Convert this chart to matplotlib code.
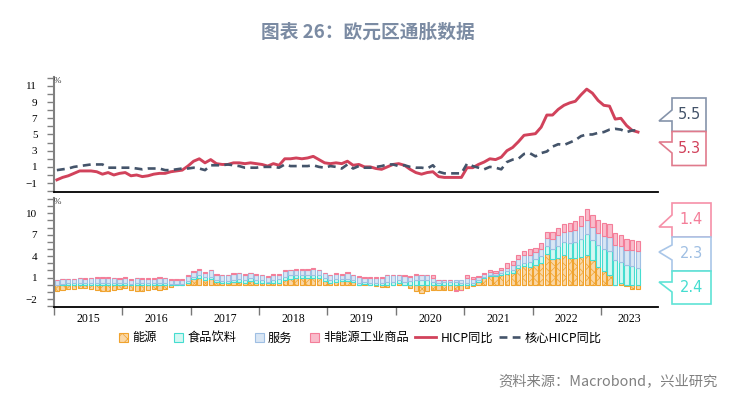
import numpy as np
import matplotlib.pyplot as plt
from matplotlib.patches import Polygon, Rectangle
from matplotlib.lines import Line2D
from matplotlib.legend_handler import HandlerPatch
from matplotlib.ticker import MultipleLocator, FixedLocator

plt.rcParams['font.family'] = ['Noto Sans CJK SC', 'DejaVu Sans']
plt.rcParams['hatch.linewidth'] = 0.5

# monthly data, 2015-01 .. 2023-07
years = ['2015', '2016', '2017', '2018', '2019', '2020', '2021', '2022', '2023']

hicp = [-0.6, -0.3, -0.1, 0.2, 0.5, 0.5, 0.5, 0.4, 0.1, 0.3, 0.0, 0.2,
        0.3, -0.1, 0.0, -0.2, -0.1, 0.1, 0.2, 0.2, 0.4, 0.5, 0.6, 1.1,
        1.7, 2.0, 1.5, 1.9, 1.4, 1.3, 1.3, 1.5, 1.5, 1.4, 1.5, 1.4,
        1.3, 1.1, 1.4, 1.2, 2.0, 2.0, 2.1, 2.0, 2.1, 2.3, 1.9, 1.5,
        1.4, 1.5, 1.4, 1.7, 1.2, 1.3, 1.0, 1.0, 0.8, 0.7, 1.0, 1.3,
        1.4, 1.2, 0.7, 0.3, 0.1, 0.3, 0.4, -0.2, -0.3, -0.3, -0.3, -0.3,
        0.9, 0.9, 1.3, 1.6, 2.0, 1.9, 2.2, 3.0, 3.4, 4.1, 4.9, 5.0,
        5.1, 5.9, 7.4, 7.4, 8.1, 8.6, 8.9, 9.1, 9.9, 10.6, 10.1, 9.2,
        8.6, 8.5, 6.9, 7.0, 6.1, 5.5, 5.3]

core = [0.6, 0.7, 0.8, 1.0, 1.1, 1.2, 1.3, 1.3, 1.3, 0.9, 0.9, 0.9,
        0.9, 0.9, 0.8, 0.7, 0.8, 0.8, 0.8, 0.6, 0.6, 0.7, 0.8, 0.8,
        0.9, 0.8, 0.6, 1.2, 1.2, 1.2, 1.3, 1.2, 1.1, 0.9, 0.9, 0.9,
        1.0, 1.0, 1.0, 0.9, 1.3, 1.1, 1.1, 1.1, 1.1, 1.2, 1.0, 0.9,
        1.1, 1.0, 0.8, 1.3, 0.8, 1.1, 0.9, 0.9, 1.0, 1.1, 1.3, 1.3,
        1.1, 1.2, 1.0, 0.9, 0.9, 0.8, 1.2, 0.4, 0.2, 0.2, 0.2, 0.2,
        1.4, 1.1, 0.9, 0.7, 1.0, 0.9, 0.7, 1.6, 1.9, 2.0, 2.6, 2.7,
        2.3, 2.7, 2.9, 3.5, 3.8, 3.7, 4.0, 4.3, 4.8, 5.0, 5.0, 5.2,
        5.3, 5.6, 5.7, 5.6, 5.3, 5.5, 5.5]

# contributions to HICP, ppt
energy = [-0.9, -0.8, -0.6, -0.6, -0.5, -0.5, -0.6, -0.7, -0.9, -0.9, -0.7, -0.6,
          -0.5, -0.8, -0.9, -0.9, -0.8, -0.6, -0.7, -0.6, -0.3, -0.1, -0.1, 0.3,
          0.8, 0.9, 0.7, 0.8, 0.4, 0.2, 0.2, 0.4, 0.4, 0.3, 0.5, 0.3,
          0.2, 0.2, 0.2, 0.3, 0.6, 0.8, 0.9, 0.9, 0.9, 1.0, 0.9, 0.5,
          0.3, 0.4, 0.5, 0.5, 0.4, 0.0, 0.1, -0.1, -0.2, -0.3, -0.3, 0.0,
          0.2, 0.0, -0.4, -0.9, -1.1, -0.9, -0.8, -0.7, -0.8, -0.8, -0.8, -0.7,
          -0.4, -0.2, 0.4, 1.0, 1.2, 1.2, 1.4, 1.5, 1.7, 2.3, 2.6, 2.5,
          2.8, 3.1, 4.3, 3.6, 3.8, 4.1, 3.8, 3.7, 3.9, 4.2, 3.4, 2.5,
          1.9, 1.4, -0.1, 0.2, -0.2, -0.6, -0.6]

food = [0.0, 0.1, 0.2, 0.2, 0.2, 0.2, 0.2, 0.3, 0.3, 0.3, 0.3, 0.2,
        0.2, 0.1, 0.2, 0.2, 0.2, 0.2, 0.3, 0.3, 0.1, 0.1, 0.1, 0.2,
        0.3, 0.5, 0.4, 0.3, 0.3, 0.3, 0.3, 0.3, 0.4, 0.4, 0.4, 0.4,
        0.4, 0.2, 0.4, 0.5, 0.5, 0.5, 0.5, 0.5, 0.5, 0.4, 0.4, 0.4,
        0.3, 0.4, 0.3, 0.3, 0.3, 0.3, 0.3, 0.3, 0.3, 0.3, 0.4, 0.4,
        0.4, 0.4, 0.5, 0.7, 0.7, 0.7, 0.4, 0.3, 0.4, 0.4, 0.4, 0.3,
        0.3, 0.3, 0.2, 0.1, 0.1, 0.1, 0.3, 0.4, 0.4, 0.4, 0.4, 0.7,
        0.8, 0.9, 1.1, 1.4, 1.6, 1.9, 2.1, 2.3, 2.5, 2.9, 2.9, 3.0,
        3.1, 3.3, 3.4, 3.0, 2.8, 2.6, 2.4]

services = [0.6, 0.7, 0.6, 0.6, 0.7, 0.6, 0.7, 0.7, 0.7, 0.7, 0.6, 0.6,
            0.7, 0.5, 0.7, 0.6, 0.6, 0.6, 0.7, 0.6, 0.6, 0.6, 0.6, 0.7,
            0.7, 0.7, 0.6, 0.9, 0.7, 0.8, 0.8, 0.8, 0.8, 0.7, 0.7, 0.7,
            0.7, 0.7, 0.8, 0.6, 0.8, 0.7, 0.7, 0.7, 0.7, 0.8, 0.7, 0.7,
            0.7, 0.7, 0.6, 0.9, 0.6, 0.8, 0.6, 0.7, 0.7, 0.7, 0.9, 0.9,
            0.7, 0.8, 0.6, 0.7, 0.6, 0.6, 0.5, 0.3, 0.2, 0.2, 0.3, 0.3,
            0.6, 0.5, 0.5, 0.4, 0.5, 0.3, 0.4, 0.5, 0.7, 0.9, 1.1, 1.0,
            1.0, 1.0, 1.1, 1.4, 1.5, 1.4, 1.6, 1.6, 1.8, 1.9, 1.8, 1.8,
            1.8, 2.0, 2.1, 2.2, 2.1, 2.3, 2.3]

neig = [0.0, 0.0, 0.0, 0.0, 0.1, 0.1, 0.1, 0.1, 0.1, 0.1, 0.1, 0.1,
        0.2, 0.2, 0.1, 0.1, 0.1, 0.1, 0.1, 0.1, 0.1, 0.1, 0.1, 0.1,
        0.1, 0.1, 0.1, 0.1, 0.1, 0.1, 0.1, 0.1, 0.1, 0.1, 0.1, 0.1,
        0.1, 0.1, 0.1, 0.1, 0.1, 0.1, 0.1, 0.1, 0.1, 0.1, 0.1, 0.1,
        0.1, 0.1, 0.1, 0.1, 0.1, 0.1, 0.1, 0.1, 0.1, 0.1, 0.1, 0.1,
        0.1, 0.1, 0.1, 0.1, 0.1, 0.1, 0.4, 0.0, 0.0, 0.0, -0.1, -0.1,
        0.4, 0.3, 0.1, 0.1, 0.2, 0.3, 0.2, 0.7, 0.5, 0.5, 0.6, 0.8,
        0.5, 0.8, 0.9, 1.0, 1.1, 1.1, 1.2, 1.3, 1.4, 1.6, 1.6, 1.7,
        1.8, 1.8, 1.7, 1.6, 1.5, 1.4, 1.4]

labels = ['能源', '食品饮料', '服务', '非能源工业商品', 'HICP同比', '核心HICP同比']

c_red = '#d1425b'
c_navy = '#44546a'
comps = [
    (energy, '#fad7a6', '#f0a32e', 'xxx'),
    (food, '#d4f7f2', '#45ddd0', None),
    (services, '#d9e6f4', '#9fbfe3', None),
    (neig, '#f9bccb', '#f47e99', None),
]

n = len(hicp)
x = np.arange(n) + 0.5
xmax = 106

fig = plt.figure(figsize=(7.41, 3.98), dpi=100)
ax1 = fig.add_axes([0.0729, 0.5176, 0.815, 0.289])
ax2 = fig.add_axes([0.0729, 0.2286, 0.815, 0.274])

# ---- top panel: headline and core
ax1.plot(x, hicp, color=c_red, lw=2.1, solid_joinstyle='round')
ax1.plot(x, core, color=c_navy, lw=1.9, dashes=(3.0, 2.0))
ax1.set_xlim(0, xmax)
ax1.set_ylim(-2.1, 12.1)
ax1.yaxis.set_major_locator(FixedLocator([-1, 1, 3, 5, 7, 9, 11]))
ax1.yaxis.set_minor_locator(MultipleLocator(1))
ax1.set_xticks([])

# ---- bottom panel: stacked contributions
pos_base = np.zeros(n)
neg_base = np.zeros(n)
bars = []
for vals, face, edge, hatch in comps:
    v = np.array(vals)
    bottom = np.where(v >= 0, pos_base, neg_base)
    b = ax2.bar(x, v, bottom=bottom, width=0.74, color=face, edgecolor=edge,
                linewidth=0.8, hatch=hatch)
    bars.append(b.patches[0])
    pos_base += np.clip(v, 0, None)
    neg_base += np.clip(v, None, 0)

ax2.set_xlim(0, xmax)
ax2.set_ylim(-3.12, 12.14)
ax2.yaxis.set_major_locator(FixedLocator([-2, 1, 4, 7, 10]))
ax2.yaxis.set_minor_locator(MultipleLocator(1))
ax2.set_xticks(np.arange(0, 97, 12))
ax2.set_xticklabels([])
mids = [12 * i + 6 for i in range(len(years) - 1)] + [(96 + xmax) / 2]
ax2.set_xticks(mids, minor=True)
ax2.set_xticklabels(years, minor=True)
ax2.tick_params(axis='x', which='major', length=6, width=1, color='#777777')
ax2.tick_params(axis='x', which='minor', length=0, pad=4,
                labelsize=8.5, labelfontfamily='Liberation Serif')

for ax in (ax1, ax2):
    for s in ('top', 'right'):
        ax.spines[s].set_visible(False)
    ax.spines['left'].set_color('#808080')
    ax.spines['left'].set_linewidth(1.5)
    ax.spines['bottom'].set_color('black')
    ax.spines['bottom'].set_linewidth(1.3)
    ax.tick_params(axis='y', which='both', length=5, width=1, color='#808080',
                   pad=7, labelsize=8, labelfontfamily='Liberation Serif')
    ax.text(0.0, 1.0, '%', transform=ax.transAxes, fontsize=6.5,
            ha='left', va='top', color='#333333', fontfamily='Liberation Serif')


# ---- callout labels on the right (pixel layout)
def px(xp, yp):
    return (xp / 741.0, 1 - yp / 398.0)


def callout(xl, xr, yt, yb, ya, ytip, ybj, color, text, tcolor):
    pts = [(xl, yt), (xr, yt), (xr, yb), (xl, yb), (xl, ybj), (659, ytip), (xl, ya)]
    poly = Polygon([px(a, b) for a, b in pts], closed=True, transform=fig.transFigure,
                   facecolor='white', edgecolor=color, linewidth=1.2)
    fig.patches.append(poly)
    cx, cy = px((xl + xr) / 2, (yt + yb) / 2)
    fig.text(cx, cy, text, ha='center', va='center', fontsize=10.5, color=tcolor,
             fontfamily='DejaVu Sans')


callout(672, 706, 98, 131.5, 110, 121, 121, '#8593aa', f'{core[-1]:.1f}', c_navy)
callout(672, 706, 131.5, 165.5, 142, 142, 153, '#e07a8c', f'{hicp[-1]:.1f}', c_red)
callout(672, 711, 203, 237, 215, 227, 227, '#f690a8', f'{neig[-1]:.1f}', '#f47e99')
callout(672, 711, 237, 271, 245, 252, 260, '#a9c6e8', f'{services[-1]:.1f}', '#9fbfe3')
callout(672, 711, 271, 304, 282, 282, 292, '#5fe3d6', f'{food[-1]:.1f}', '#45ddd0')


# ---- legend
def square(legend, orig_handle, xdescent, ydescent, width, height, fontsize):
    s = height * 1.05
    return Rectangle((width - xdescent - s, -ydescent - 0.05 * height), s, s)


handles = bars + [Line2D([], [], color=c_red, lw=2.0),
                  Line2D([], [], color=c_navy, lw=1.9, dashes=(3.0, 2.0))]
hmap = {b: HandlerPatch(patch_func=square) for b in bars}
fig.legend(handles, labels, loc='center', bbox_to_anchor=(0.478, 0.151), ncol=6,
           frameon=False, fontsize=8.8, handlelength=1.7, handletextpad=0.35,
           columnspacing=0.5, handler_map=hmap)

fig.text(0.497, 1 - 32 / 398, '图表 26：欧元区通胀数据', ha='center', va='center',
         fontsize=13.5, fontweight='bold', color='#7b8ba3')
fig.text(0.969, 1 - 381 / 398, '资料来源：Macrobond，兴业研究', ha='right', va='center',
         fontsize=10.3, color='#808080')

fig.savefig('out.png', dpi=100)
